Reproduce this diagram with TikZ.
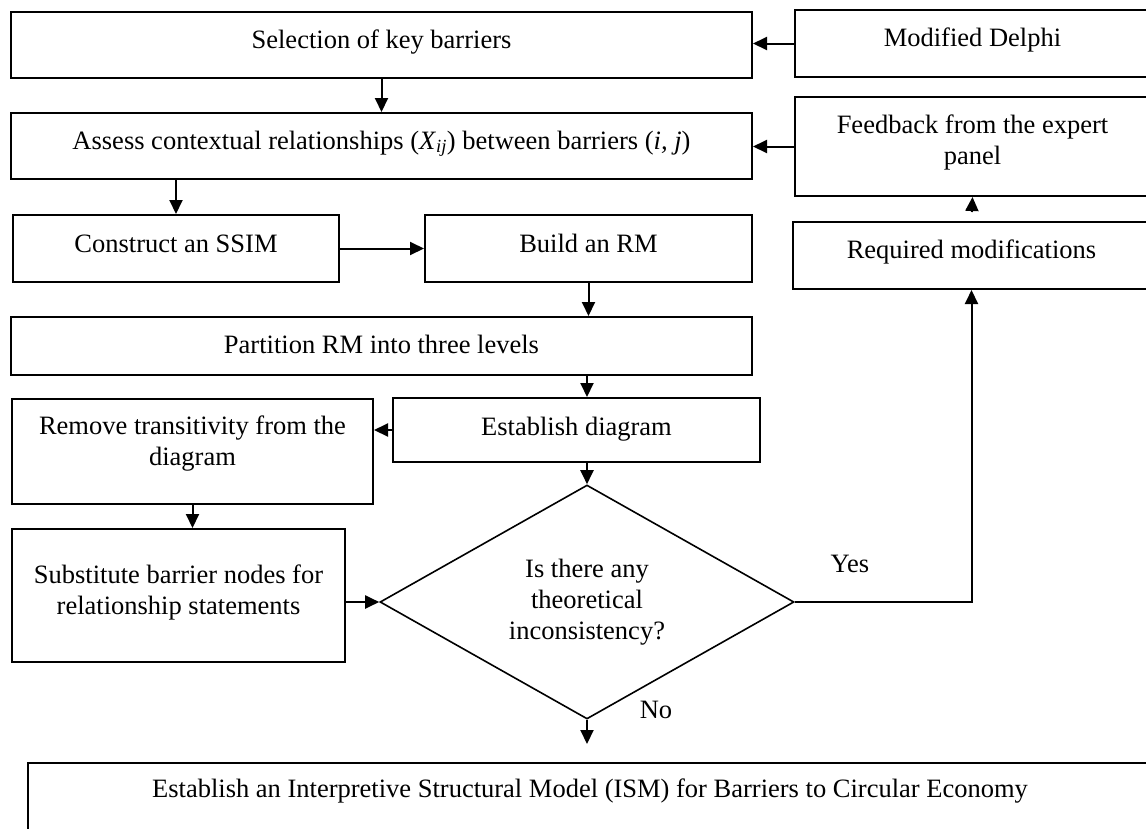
\documentclass[tikz,border=0pt]{standalone}
\usepackage{fontspec}
\setmainfont{Liberation Serif}
\usetikzlibrary{arrows.meta,shapes.geometric}
% first-line baseline block for multi-line box texts
\newcommand{\stacklines}[1]{\begin{tabular}[t]{@{}c@{}}#1\end{tabular}}

\begin{document}
\begin{tikzpicture}[x=1pt,y=-1pt,
  every node/.style={font=\fontsize{26.5}{31}\selectfont},
  stage/.style n args={3}{draw, line width=2pt, inner sep=0pt, anchor=base,
    minimum width=#1, text height=#2, text depth=#3},
  decision/.style={draw, diamond, line width=1.6pt, inner sep=0pt, aspect=1.77,
    minimum width=414pt, minimum height=234pt, align=center},
  flow/.style={line width=2pt, -{Triangle[length=14pt,width=13pt]}},
  tag/.style={anchor=base, inner sep=0pt}]

\clip (0,0) rectangle (1146,828);

% process boxes
\node[stage={741pt}{36pt}{30pt}] (sel) at (381.5,48) {Selection of key barriers};
\node[stage={355pt}{36pt}{31pt}] (delphi) at (972.5,46) {Modified Delphi};
\node[stage={741pt}{36pt}{30pt}] (assess) at (381.5,149)
  {Assess contextual relationships (\textit{X}\textsubscript{\textit{ij}}) between barriers (\textit{i, j})};
\node[stage={355pt}{36pt}{63pt}] (fb) at (972.5,133) {\stacklines{Feedback from the expert\\panel}};
\node[stage={326pt}{37pt}{30pt}] (construct) at (176,252) {Construct an SSIM};
\node[stage={327pt}{37pt}{30pt}] (build) at (588.5,252) {Build an RM};
\node[stage={357pt}{36pt}{31pt}] (req) at (971.5,258) {Required modifications};
\node[stage={741pt}{36pt}{22pt}] (part) at (381.5,353) {Partition RM into three levels};
\node[stage={367pt}{37pt}{27pt}] (estab) at (576.5,435) {Establish diagram};
\node[stage={361pt}{35pt}{70pt}] (remove) at (192.5,434) {\stacklines{Remove transitivity from the\\diagram}};
\node[stage={333pt}{54pt}{79pt}] (subst) at (178.5,583) {\stacklines{Substitute barrier nodes for\\relationship statements}};
\node[decision] (dec) at (587,602) {Is there any\\theoretical\\inconsistency?};
\node[stage={1124pt}{34pt}{48pt}] (ism) at (590,797)
  {Establish an Interpretive Structural Model (ISM) for Barriers to Circular Economy};

% decision labels
\node[tag] (yes) at (850,572) {Yes};
\node[tag] (no) at (656,718) {No};
\coordinate (ismIn) at (587,744);

% connectors
\draw[flow] (delphi.west) -- (delphi.west -| sel.east);
\draw[flow] (sel.south) -- (assess.north);
\draw[flow] (fb.west) -- (fb.west -| assess.east);
\draw[flow] (assess.south -| construct.north) -- (construct.north);
\draw[flow] (construct.east) -- (construct.east -| build.west);
\draw[flow] (build.south) -- (build.south |- part.north);
\draw[flow] (part.south -| dec.north) -- (dec.north |- estab.north);
\draw[flow] (estab.west) -- (estab.west -| remove.east);
\draw[flow] (dec.north |- estab.south) -- (dec.north);
\draw[flow] (remove.south) -- (remove.south |- subst.north);
\draw[flow] (dec.west -| subst.east) -- (dec.west);
\draw[flow] (dec.east) -| (req.south);
\draw[flow, shorten <=9pt] (req.north) -- (fb.south);
\draw[flow] (dec.south) -- (ismIn);
\end{tikzpicture}
\end{document}
